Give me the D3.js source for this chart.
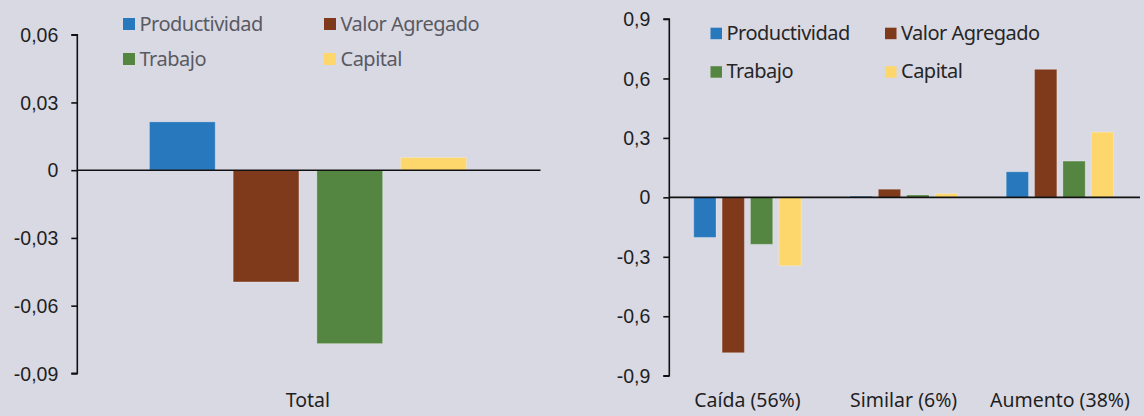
<!DOCTYPE html>
<meta charset="utf-8">
<style>
body { margin: 0; background: #d9d9e4; }
svg { display: block; font-family: "Noto Sans", sans-serif; }
.tick text { fill: #1f1f1f; font-size: 19.5px; }
.domain, .tick line { stroke: #111; stroke-width: 1.6px; }
.zero { stroke: #111; stroke-width: 1.6px; }
.cat { fill: #1f1f1f; font-size: 19.5px; text-anchor: middle; }
.legend text { font-size: 20px; letter-spacing: -0.5px; }
.bar { stroke: #fff; stroke-opacity: 0.25; stroke-width: 1px; }
</style>
<svg width="1144" height="416"></svg>
<script src="https://cdn.jsdelivr.net/npm/d3@7"></script>
<script>

// series shared by both panels
var series = ["Productividad", "Valor Agregado", "Trabajo", "Capital"];
var colors = ["#2878bd", "#7e3a1a", "#548541", "#fdd76b"];

// left panel: total
var leftCats = ["Total"];
var leftValues = [[0.0214, -0.0495, -0.0768, 0.0056]];
var leftTicks = [-0.09, -0.06, -0.03, 0, 0.03, 0.06];

// right panel: by group
var rightCats = ["Caída (56%)", "Similar (6%)", "Aumento (38%)"];
var productividad = [-0.202, 0.006, 0.129];
var valorAgregado = [-0.784, 0.041, 0.646];
var trabajo = [-0.237, 0.012, 0.183];
var capital = [-0.345, 0.019, 0.329];
var rightTicks = [-0.9, -0.6, -0.3, 0, 0.3, 0.6, 0.9];

var rightValues = rightCats.map(function(c, i) {
  return [productividad[i], valorAgregado[i], trabajo[i], capital[i]];
});

var locale = d3.formatLocale({decimal: ",", thousands: ".", grouping: [3], currency: ["", ""], minus: "-"});

var svg = d3.select("svg");

function panel(o) {
  var g = svg.append("g");

  var y = d3.scaleLinear().domain(o.domain).range([o.bottom, o.top]);
  var x0 = d3.scaleBand().domain(o.cats).range([o.left, o.right])
      .paddingInner(0.313).paddingOuter(0.1565);
  var x1 = d3.scaleBand().domain(series).range([0, x0.bandwidth()]).paddingInner(0.215);

  var fmt = locale.format(o.fmt);

  // bars
  o.cats.forEach(function(c, ci) {
    g.append("g")
        .attr("transform", "translate(" + x0(c) + ",0)")
      .selectAll("rect")
      .data(o.values[ci])
      .enter().append("rect")
        .attr("class", "bar")
        .attr("x", function(d, i) { return x1(series[i]); })
        .attr("width", x1.bandwidth())
        .attr("y", function(d) { return y(Math.max(0, d)); })
        .attr("height", function(d) { return Math.abs(y(d) - y(0)); })
        .attr("fill", function(d, i) { return colors[i]; });
  });

  // zero line
  g.append("line")
      .attr("class", "zero")
      .attr("x1", o.left).attr("x2", o.right + 2)
      .attr("y1", y(0)).attr("y2", y(0));

  // y axis
  var ya = g.append("g")
      .attr("transform", "translate(" + o.left + ",0)")
      .call(d3.axisLeft(y).tickValues(o.ticks).tickSize(6).tickPadding(13)
        .tickFormat(function(d) { return Math.abs(d) < 1e-9 ? "0" : fmt(d); }));
  ya.select(".domain").attr("d", "M-6," + y(o.domain[1]) + "H0V" + y(o.domain[0]) + "H-6");
  ya.selectAll(".tick text").attr("dy", "0.34em");

  // category labels at the bottom
  g.selectAll(".cat")
    .data(o.cats)
    .enter().append("text")
      .attr("class", "cat")
      .attr("x", function(d) { return x0(d) + x0.bandwidth() / 2; })
      .attr("y", 407);

  g.selectAll(".cat").text(function(d) { return d; });

  // legend, two columns
  var lg = g.append("g").attr("class", "legend");
  series.forEach(function(s, i) {
    var lx = o.legX + (i % 2) * o.legCol,
        ly = o.legY + Math.floor(i / 2) * o.legRow;
    lg.append("rect")
        .attr("x", lx).attr("y", ly)
        .attr("width", o.sq).attr("height", o.sq)
        .attr("fill", colors[i]);
    lg.append("text")
        .attr("x", lx + o.sq + 4.5)
        .attr("y", ly + o.sq + 0.5)
        .attr("fill", o.legColor)
        .text(s);
  });
}

panel({
  cats: leftCats, values: leftValues, ticks: leftTicks,
  domain: [-0.09, 0.06], fmt: ".2f",
  left: 77.3, right: 538.5, top: 34.7, bottom: 373.4,
  legX: 123, legY: 18, legCol: 201, legRow: 35, sq: 12, legColor: "#5a5a62"
});

panel({
  cats: rightCats, values: rightValues, ticks: rightTicks,
  domain: [-0.9, 0.9], fmt: ".1f",
  left: 669.3, right: 1138, top: 19, bottom: 375.7,
  legX: 710.5, legY: 27.7, legCol: 174.5, legRow: 38.5, sq: 11.5, legColor: "#262626"
});

</script>
